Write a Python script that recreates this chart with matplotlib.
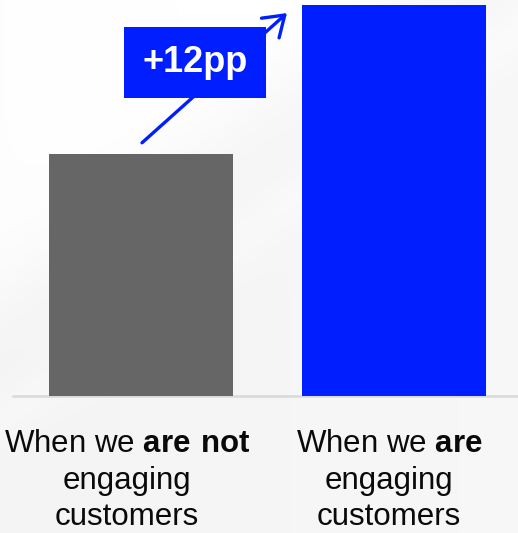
import numpy as np
import matplotlib
matplotlib.use("Agg")
import matplotlib.pyplot as plt
from matplotlib.transforms import ScaledTranslation

# ---- data ----
categories = ["When we $\\mathbf{are\\ not}$\nengaging\ncustomers",
              "When we $\\mathbf{are}$\nengaging\ncustomers"]
values = [19.5, 31.5]          # % (estimated)
bar_colors = ["#666666", "#001EFF"]
delta_label = "+12pp"

plt.rcParams["font.family"] = ["Liberation Sans", "DejaVu Sans"]
plt.rcParams["mathtext.fontset"] = "custom"
plt.rcParams["mathtext.rm"] = "Liberation Sans"
plt.rcParams["mathtext.bf"] = "Liberation Sans:bold"

W, H = 518, 533
fig = plt.figure(figsize=(W / 100, H / 100), dpi=100)

# subtle background gradient
bg = fig.add_axes([0, 0, 1, 1], zorder=-1)
yy, xx = np.mgrid[0:H, 0:W]
d = xx * 0.75 + yy  # diagonal coordinate
v = 0.958 + 0.038 / (1 + np.exp((d - 290) / 25.0))
v += 0.012 * np.exp(-((d - 420) / 30.0) ** 2)
v += 0.012 * (xx / W)
v = np.clip(v, 0, 1)
bg.imshow(np.dstack([v, v, v]), extent=[0, W, H, 0], aspect="auto")
bg.axis("off")

base_px = 396
ax = fig.add_axes([0, (H - base_px) / H, 1, base_px / H])
ax.set_facecolor("none")
x = np.arange(len(values))
spacing = 253.0
ax.bar(x, values, width=184 / spacing, color=bar_colors, zorder=2)
ax.set_xlim(-141 / spacing, 1 + (W - 394) / spacing)
ymax = values[1] * base_px / 391
ax.set_ylim(0, ymax)
for s in ax.spines.values():
    s.set_visible(False)
ax.axhline(0, xmin=13 / W, xmax=1, color="#d9d9d9", lw=1.8, zorder=1, clip_on=False)
ax.set_yticks([])
ax.set_xticks([])

# category labels (slightly left of bar centres, as in the original)
label_shift = [-14 / spacing, -5 / spacing]
tr = ax.get_xaxis_transform() + ScaledTranslation(0, -23.5 / 72, fig.dpi_scale_trans)
for xi, lab, sh in zip(x, categories, label_shift):
    ax.text(xi + sh, 0, lab, transform=tr, ha="center", va="top",
            multialignment="center", fontsize=22.5, linespacing=1.3,
            color="#0a0a0a", clip_on=False)

# arrow from the gray bar to the blue bar
ax.annotate("", xy=(0.577, values[1] - 0.65), xytext=(0.004, values[0] + 0.9),
            arrowprops=dict(arrowstyle="->,head_length=1.4,head_width=0.95",
                            color="#001EFF", lw=2.4, shrinkA=0, shrinkB=0,
                            mutation_scale=10), zorder=3)
ax.text(0.213, values[0] + (values[1] - values[0]) * 0.615, delta_label,
        ha="center", va="center", fontsize=26, fontweight="bold", color="white",
        bbox=dict(boxstyle="square,pad=0.5", fc="#001EFF", ec="none"), zorder=4)

fig.savefig("out.png", dpi=100)
